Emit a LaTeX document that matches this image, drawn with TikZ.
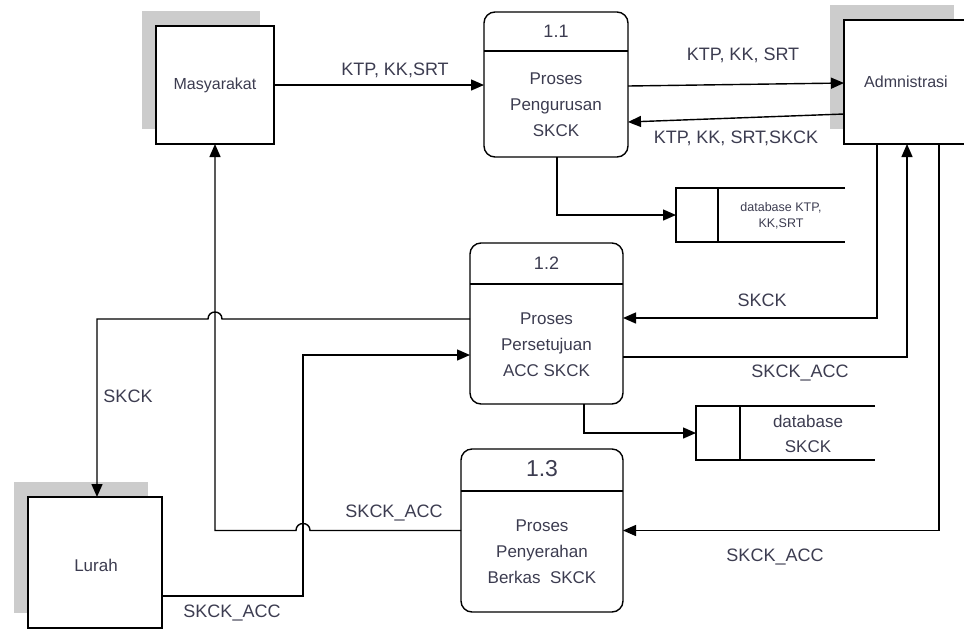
\documentclass[tikz,border=0pt]{standalone}
\usepackage{fontspec}
\setmainfont{Liberation Sans}
\usetikzlibrary{arrows.meta,calc,shadows}
\definecolor{txt}{RGB}{60,60,80}
\definecolor{shade}{RGB}{204,204,204}
\begin{document}
\begin{tikzpicture}[x=1pt,y=-1pt,
  every node/.style={inner sep=0pt, outer sep=0pt, text=txt},
  entity/.style={draw, line width=1.4pt, fill=white,
    general shadow={fill=shade, shadow xshift=-14pt, shadow yshift=15pt}},
  proc/.style={draw, line width=1.4pt, rounded corners=11pt},
  divline/.style={line width=1.4pt},
  flow/.style={line width=1.4pt, -{Triangle[length=13pt,width=11pt]}},
  plain/.style={line width=1.4pt},
  lbl/.style={font=\fontsize{18}{20}\selectfont},
  ent/.style={font=\fontsize{16}{18}\selectfont},
  body/.style={align=center, font=\fontsize{17}{26}\selectfont},
  num/.style={font=\fontsize{18}{20}\selectfont},
]
\useasboundingbox (0,0) rectangle (964,630);

% external entities
\node[entity, minimum width=118pt, minimum height=118pt] (mas) at (215,85) {};
\node[ent] (mast) at (215,85) {Masyarakat};
\node[entity, minimum width=124pt, minimum height=124pt] (adm) at (906,82) {};
\node[ent] (admt) at (906,82) {Admnistrasi};
\node[entity, minimum width=134pt, minimum height=131pt] (lur) at (95,562.5) {};
\node[font=\fontsize{17}{19}\selectfont] (lurt) at (96,565) {Lurah};

% processes
\node[proc, minimum width=144pt, minimum height=145pt] (p11) at (556,84.5) {};
\draw[divline] ([yshift=-39pt]p11.north west) -- ([yshift=-39pt]p11.north east);
\node[num] (p11n) at ($(p11.north)+(0,19.5)$) {1.1};
\node[body] (p11t) at ($(p11.north)+(0,93)$) {Proses\\Pengurusan\\SKCK};

\node[proc, minimum width=153pt, minimum height=161pt] (p12) at (546.5,323.5) {};
\draw[divline] ([yshift=-41pt]p12.north west) -- ([yshift=-41pt]p12.north east);
\node[num] (p12n) at ($(p12.north)+(0,20.5)$) {1.2};
\node[body] (p12t) at ($(p12.north)+(0,101.5)$) {Proses\\Persetujuan\\ACC SKCK};

\node[proc, minimum width=162pt, minimum height=163pt] (p13) at (542,530.5) {};
\draw[divline] ([yshift=-42pt]p13.north west) -- ([yshift=-42pt]p13.north east);
\node[font=\fontsize{23}{25}\selectfont] (p13n) at ($(p13.north)+(0,20)$) {1.3};
\node[body] (p13t) at ($(p13.north)+(0,102.5)$) {Proses\\Penyerahan\\Berkas~~SKCK};

% data stores
\node[minimum width=169pt, minimum height=54pt] (db1) at (760.5,215) {};
\draw[plain] (db1.north east) -- (db1.north west) -- (db1.south west) -- (db1.south east);
\draw[plain] ([xshift=42pt]db1.north west) -- ([xshift=42pt]db1.south west);
\node[align=center, font=\fontsize{12.5}{16}\selectfont] (db1t) at (781,216) {database KTP,\\KK,SRT};

\node[minimum width=179pt, minimum height=54pt] (db2) at (785.5,433) {};
\draw[plain] (db2.north east) -- (db2.north west) -- (db2.south west) -- (db2.south east);
\draw[plain] ([xshift=44pt]db2.north west) -- ([xshift=44pt]db2.south west);
\node[align=center, font=\fontsize{17}{25}\selectfont] (db2t) at (808,434) {database\\SKCK};

% flows
\draw[flow] (mas.east) -- (mas.east -| p11.west);
\node[lbl] (l1) at (395,70) {KTP, KK,SRT};

\draw[flow] ([shift={(0,1.5)}]p11.east) -- ([shift={(0,1)}]adm.west);
\node[lbl] (l2) at (743,55) {KTP, KK, SRT};

\draw[flow] ([shift={(0,32)}]adm.west) -- ([shift={(0,37.5)}]p11.east);
\node[lbl] (l3) at (736,138) {KTP, KK, SRT,SKCK};

\draw[flow] ([shift={(1,0)}]p11.south) |- (db1.west);

\draw[flow] ([shift={(-29,0)}]adm.south) |- ([shift={(0,-5.5)}]p12.east);
\node[lbl] (l4) at (762,300) {SKCK};

\draw[flow] ([shift={(0,33.5)}]p12.east) -| ([shift={(1,0)}]adm.south);
\node[lbl] (l5) at (800,373) {SKCK\_ACC};

\draw[flow] ([shift={(33,0)}]adm.south) |- (p13.east);
\node[lbl] (l6) at (775,557) {SKCK\_ACC};

\draw[flow] ([shift={(37.5,0)}]p12.south) |- (db2.west);

% p12 -> Lurah with hop over the Masyarakat line
\coordinate (a1) at ([shift={(0,-4.5)}]p12.west);
\draw[flow] (a1) -- ($(mas.south |- a1)+(7,0)$)
  .. controls +(0,-9.3) and +(0,-9.3) .. ($(mas.south |- a1)+(-7,0)$)
  -| ([shift={(2,0)}]lur.north);
\node[lbl] (l7) at (128,396) {SKCK};

% Lurah -> p12
\coordinate (j1) at (303,355);
\draw[flow] ([shift={(0,33.5)}]lur.east) -| (j1) -- (j1 -| p12.west);
\node[lbl] (l8) at (232,613) {SKCK\_ACC};

% p13 -> Masyarakat with hop over the Lurah line
\draw[flow] (p13.west) -- ($(j1 |- p13.west)+(7,0)$)
  .. controls +(0,-9.3) and +(0,-9.3) .. ($(j1 |- p13.west)+(-7,0)$)
  -| (mas.south);
\node[lbl] (l9) at (394,513) {SKCK\_ACC};
\end{tikzpicture}
\end{document}
